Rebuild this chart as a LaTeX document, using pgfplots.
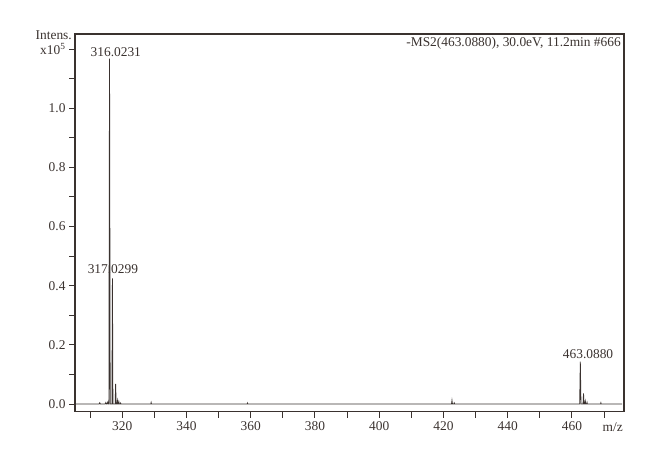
\documentclass[border=0pt]{standalone}
\usepackage{fontspec}
\setmainfont{Liberation Serif}
\usepackage{pgfplots}
\pgfplotsset{compat=1.18}
\definecolor{ink}{HTML}{3A322F}
\begin{document}
\begin{tikzpicture}[font=\fontsize{13.4}{15}\selectfont]
\path[use as bounding box] (-75pt,-51.3pt) rectangle (585pt,411.7pt);
\begin{axis}[
  at={(0pt,0pt)}, anchor=south west,
  scale only axis, width=549pt, height=377.7pt,
  xmin=305.3, xmax=476.2, ymin=-0.026, ymax=1.251,
  axis line style={ink, line width=1.2pt},
  /pgf/number format/assume math mode=true,
  xtick={320,340,360,380,400,420,440,460},
  minor xtick={310,330,350,370,390,410,430,450,470},
  ytick={0,0.2,0.4,0.6,0.8,1.0,1.2},
  yticklabels={0.0,0.2,0.4,0.6,0.8,1.0,{x10\textsuperscript{5}}},
  minor ytick={0.1,0.3,0.5,0.7,0.9,1.1},
  xtick pos=left, ytick pos=left,
  tick align=outside,
  major tick length=6pt, minor tick length=6pt,
  every tick/.style={ink, line width=1pt},
  every minor tick/.style={ink, line width=1pt},
  tick label style={font=\fontsize{13.4}{15}\selectfont, text=ink},
  clip=false,
]
\addplot[ink, line width=0.8pt] coordinates {
(305.6,0) (312.8,0) (313.0,0.004) (313.2,0)
(314.7,0) (314.9,0.005) (315.1,0) (315.3,0) (315.5,0.006) (315.7,0)
(315.85,0) (316.05,1.168) (316.25,0)
(316.8,0) (316.95,0.425) (317.1,0)
(317.8,0) (317.95,0.068) (318.1,0)
(318.35,0) (318.5,0.012) (318.65,0)
(318.8,0) (318.95,0.008) (319.1,0)
(319.4,0) (319.5,0.003) (319.6,0)
(328.9,0) (329.0,0.005) (329.1,0)
(358.9,0) (359.0,0.003) (359.1,0)
(422.5,0) (422.65,0.012) (422.8,0)
(423.2,0) (423.35,0.004) (423.5,0)
(462.4,0) (462.6,0.143) (462.8,0)
(463.45,0) (463.6,0.036) (463.75,0)
(464.0,0) (464.15,0.010) (464.3,0)
(464.6,0) (464.7,0.005) (464.8,0)
(468.9,0) (469.0,0.004) (469.1,0)
(475.6,0)
};
\node[text=ink, inner sep=0pt] at (axis cs:318.0,1.191) {316.0231};
\node[text=ink, inner sep=0pt] at (axis cs:317.1,0.4565) {317.0299};
\node[text=ink, inner sep=0pt] at (axis cs:465.0,0.168) {463.0880};
\node[text=ink, inner sep=0pt, anchor=east] at ([xshift=-3pt,yshift=-9pt]rel axis cs:1,1) {-MS2(463.0880), 30.0eV, 11.2min \#666};
\node[text=ink, inner sep=0pt, anchor=east] at ([xshift=-3pt,yshift=-1.7pt]rel axis cs:0,1) {Intens.};
\node[text=ink, inner sep=0pt, anchor=base] at ([yshift=-19.5pt]axis cs:472.7,-0.026) {m/z};
\end{axis}
\end{tikzpicture}
\end{document}
